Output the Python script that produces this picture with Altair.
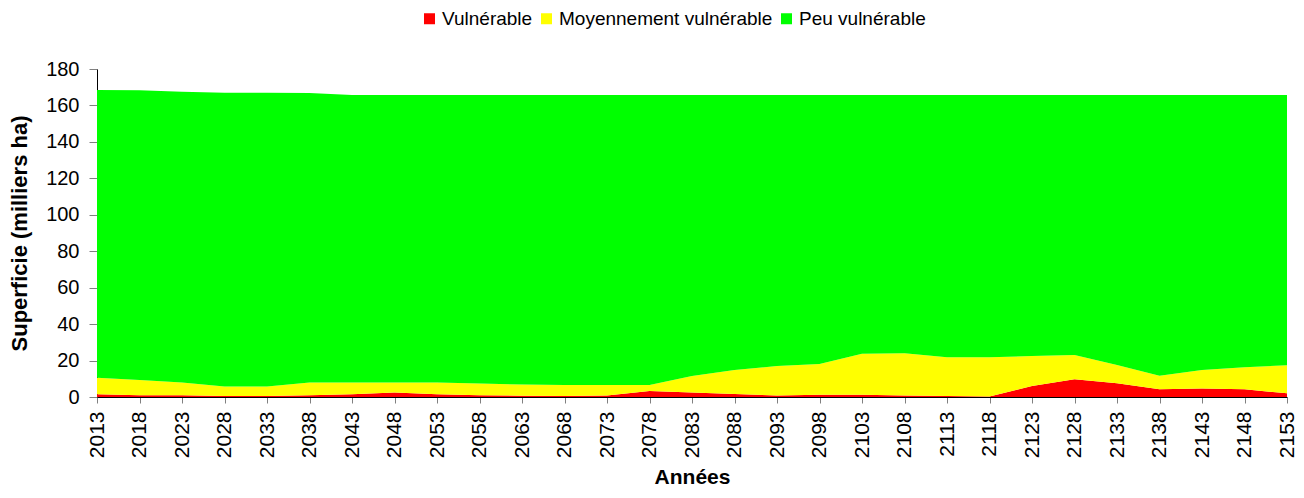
import altair as alt
import pandas as pd

years = list(range(2013, 2154, 5))
vulnerable = [1.5, 1.0, 1.0, 0.5, 0.5, 1.0, 1.5, 2.5, 1.5, 1.0, 0.7, 0.5, 0.8, 3.3, 2.5,
              1.6, 0.8, 1.2, 1.2, 0.8, 0.5, 0.3, 6.0, 9.8, 7.5, 4.2, 4.6, 4.2, 2.0]
moyen = [9.1, 8.3, 6.9, 5.2, 5.2, 7.0, 6.5, 5.5, 6.5, 6.4, 6.2, 6.1, 5.8, 3.3, 9.0,
         13.2, 16.2, 16.9, 22.6, 23.2, 21.3, 21.5, 16.5, 13.2, 10.0, 7.5, 10.2, 12.1, 15.4]
peu = [157.9, 159.0, 159.6, 161.3, 161.3, 158.8, 157.8, 157.8, 157.8, 158.4, 158.9, 159.2,
       159.2, 159.2, 154.3, 151.0, 148.8, 147.7, 142.0, 141.8, 144.0, 144.0, 143.3, 142.8,
       148.3, 154.1, 151.0, 149.5, 148.4]

categories = ["Vulnérable", "Moyennement vulnérable", "Peu vulnérable"]
colors = ["#FF0000", "#FFFF00", "#00FF00"]

rows = []
for i, y in enumerate(years):
    for k, (cat, vals) in enumerate(zip(categories, [vulnerable, moyen, peu])):
        rows.append({"annee": str(y), "cat": cat, "val": vals[i], "ord": k})
df = pd.DataFrame(rows)

FONT = "Liberation Sans"

chart = alt.Chart(df).mark_area(opacity=1).encode(
    x=alt.X("annee:O", title="Années", sort=[str(y) for y in years],
            scale=alt.Scale(padding=0),
            axis=alt.Axis(labelAngle=-90, labelFontSize=21, labelFont=FONT,
                          labelColor="black", labelPadding=8, tickSize=6,
                          tickColor="#808080", domainColor="black",
                          titleFont=FONT, titleFontSize=21, titleFontWeight="bold",
                          titleColor="black", titlePadding=9)),
    y=alt.Y("val:Q", stack="zero", title="Superficie (milliers ha)",
            scale=alt.Scale(domain=[0, 180], nice=False),
            axis=alt.Axis(values=list(range(0, 181, 20)), grid=False, labelFontSize=20,
                          labelFont=FONT, labelColor="black", labelPadding=10,
                          tickSize=8, tickColor="#808080", domainColor="black",
                          titleFont=FONT, titleFontSize=22, titleFontWeight="bold",
                          titleColor="black", titlePadding=14)),
    color=alt.Color("cat:N", scale=alt.Scale(domain=categories, range=colors),
                    legend=alt.Legend(title=None, orient="none", direction="horizontal",
                                      legendX=323, legendY=-60, symbolType="square",
                                      symbolSize=121, symbolStrokeWidth=0,
                                      labelFont=FONT, labelFontSize=19, labelLimit=400,
                                      labelColor="black", columnPadding=4,
                                      labelOffset=3)),
    order=alt.Order("ord:Q"),
).properties(
    width=1190, height=328,
    padding={"left": 89, "top": 61, "right": 9, "bottom": 93},
    autosize=alt.AutoSizeParams(type="none"),
).configure_view(stroke=None)

chart.save("out.html", embed_options={"renderer": "svg", "actions": False})
